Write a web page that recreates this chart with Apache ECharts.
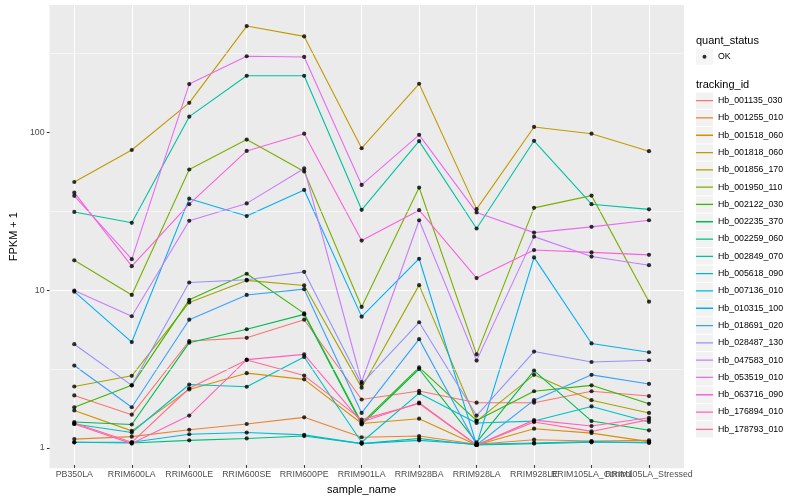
<!DOCTYPE html>
<html>
<head>
<meta charset="utf-8">
<script src="https://cdn.jsdelivr.net/npm/echarts@6/dist/echarts.min.js"></script>
<style>
html,body{margin:0;padding:0;background:#ffffff;}
#chart{width:800px;height:500px;}
</style>
</head>
<body>
<div id="chart"></div>
<script>
// ---------- data (values are FPKM + 1, as plotted) ----------
const categories = ['PB350LA','RRIM600LA','RRIM600LE','RRIM600SE','RRIM600PE','RRIM901LA','RRIM928BA','RRIM928LA','RRIM928LE','RRIM105LA_Control','RRIM105LA_Stressed'];

const trackingIds = ['Hb_001135_030','Hb_001255_010','Hb_001518_060','Hb_001818_060','Hb_001856_170','Hb_001950_110','Hb_002122_030','Hb_002235_370','Hb_002259_060','Hb_002849_070','Hb_005618_090','Hb_007136_010','Hb_010315_100','Hb_018691_020','Hb_028487_130','Hb_047583_010','Hb_053519_010','Hb_063716_090','Hb_176894_010','Hb_178793_010'];

const hb_001135_030 = [2.07, 1.56, 4.6, 4.82, 6.29, 1.95, 2.21, 1.86, 1.86, 2.20, 2.05];
const hb_001255_010 = [1.09, 1.13, 1.25, 1.36, 1.50, 1.12, 1.14, 1.01, 1.08, 1.06, 1.07];
const hb_001518_060 = [1.66, 1.23, 2.26, 2.87, 2.62, 1.37, 1.47, 1.00, 1.27, 1.19, 1.05];
const hb_001818_060 = [47.5, 76, 152, 469, 403, 78, 201, 31.9, 106.6, 96.6, 74.7];
const hb_001856_170 = [2.36, 2.76, 8.11, 11.2, 10.4, 2.32, 10.45, 1.42, 2.80, 1.93, 1.60];
const hb_001950_110 = [15.05, 9.05, 57.1, 88.6, 55.5, 7.59, 43.8, 3.78, 32.5, 38.9, 8.20];
const hb_002122_030 = [1.74, 2.40, 8.42, 12.35, 6.9, 1.38, 3.12, 1.43, 2.20, 2.40, 1.83];
const hb_002235_370 = [1.40, 1.35, 4.49, 5.47, 6.8, 1.35, 3.05, 1.04, 2.98, 1.42, 1.24];
const hb_002259_060 = [1.04, 1.03, 1.07, 1.10, 1.14, 1.02, 1.10, 1.00, 1.02, 1.04, 1.04];
const hb_002849_070 = [30.6, 26.1, 124, 226, 226, 31.6, 86.6, 24.0, 87.0, 34.3, 31.8];
const hb_005618_090 = [1.36, 1.20, 2.43, 2.35, 3.64, 1.04, 2.14, 1.38, 1.42, 1.76, 1.40];
const hb_007136_010 = [1.04, 1.04, 1.17, 1.20, 1.16, 1.02, 1.07, 1.01, 1.03, 1.05, 1.03];
const hb_010315_100 = [9.5, 4.53, 37.2, 28.8, 42.3, 6.58, 15.4, 1.00, 15.7, 4.44, 3.90];
const hb_018691_020 = [3.21, 1.74, 6.29, 9.05, 9.85, 1.60, 4.73, 1.00, 1.93, 2.80, 2.45];
const hb_028487_130 = [4.39, 2.40, 10.86, 11.3, 12.7, 2.45, 6.06, 1.54, 3.94, 3.38, 3.47];
const hb_047583_010 = [9.66, 6.62, 26.9, 34.7, 58, 2.52, 27.1, 3.45, 21.3, 15.9, 14.0];
const hb_053519_010 = [38.8, 15.3, 200, 301, 298, 45.5, 95, 30.4, 22.6, 24.6, 27.1];
const hb_063716_090 = [40.6, 13.8, 34.3, 75, 96.6, 20.1, 31.4, 11.6, 17.5, 16.9, 16.3];
const hb_176894_010 = [1.36, 1.02, 1.54, 3.50, 3.78, 1.40, 1.86, 1.00, 1.44, 1.32, 1.49];
const hb_178793_010 = [1.38, 1.04, 2.3, 3.48, 2.77, 1.45, 1.84, 1.00, 1.40, 1.22, 1.45];

const seriesValues = [hb_001135_030, hb_001255_010, hb_001518_060, hb_001818_060, hb_001856_170, hb_001950_110, hb_002122_030, hb_002235_370, hb_002259_060, hb_002849_070, hb_005618_090, hb_007136_010, hb_010315_100, hb_018691_020, hb_028487_130, hb_047583_010, hb_053519_010, hb_063716_090, hb_176894_010, hb_178793_010];

const yTickValues = [1, 10, 100];
const yMinorValues = [3.1623, 31.623, 316.23];
const quantStatus = ['OK'];

// ---------- styles ----------
const palette = ['#F8766D','#EA8331','#D89000','#C09B00','#A3A500','#7CAE00','#39B600','#00BB4E','#00BF7D','#00C1A3','#00BFC4','#00BAE0','#00B0F6','#35A2FF','#9590FF','#C77CFF','#E76BF3','#FA62DB','#FF62BC','#FF6C91'];
const FONT = '"Liberation Sans", Arial, Helvetica, sans-serif';
const Y_MIN = 0.744, Y_MAX = 639;
const linePath = 'path://M0,0h0.01v0.01h-0.01z M17,16.3h0.01v0.01h-0.01z M0,7.5h17v1.3h-17z';
const dotPath = 'path://M0,0h0.01v0.01h-0.01z M17,16.3h0.01v0.01h-0.01z M6.5,8.15a2,2 0 1,0 4,0a2,2 0 1,0 -4,0z';

const chart = echarts.init(document.getElementById('chart'), null, {renderer: 'canvas'});

const lineSeries = trackingIds.map((id, i) => ({
  name: id,
  type: 'line',
  xAxisIndex: 1,
  yAxisIndex: 1,
  data: seriesValues[i],
  symbol: 'none',
  lineStyle: {color: palette[i], width: 1.1},
  itemStyle: {color: palette[i]},
  z: 2,
  silent: true
}));

const pointData = [];
seriesValues.forEach(vals => vals.forEach((v, j) => pointData.push([categories[j], v])));

const legendText = {fontSize: 8.8, color: '#000', fontFamily: FONT};
const titleText = {fontSize: 11, fontWeight: 'normal', color: '#000', fontFamily: FONT};

const option = {
  animation: false,
  backgroundColor: '#ffffff',
  textStyle: {fontFamily: FONT},
  title: [
    {text: 'quant_status', left: 696, top: 35, padding: 0, textStyle: titleText},
    {text: 'tracking_id', left: 696, top: 79, padding: 0, textStyle: titleText}
  ],
  grid: [
    {left: 40, right: 116, top: 5, bottom: 31.7, show: true, backgroundColor: '#EBEBEB', borderWidth: 0},
    {left: 74.3, right: 151, top: 5, bottom: 31.7, show: false}
  ],
  legend: [
    {left: 696, top: 48.5, orient: 'vertical', padding: 0, itemWidth: 17, itemHeight: 16.3, icon: 'rect', selectedMode: false,
     itemStyle: {borderWidth: 0}, formatter: () => '', textStyle: legendText,
     data: quantStatus.map(n => ({name: n, itemStyle: {color: '#F2F2F2', borderWidth: 0}}))},
    {left: 696, top: 48.5, orient: 'vertical', padding: 0, itemWidth: 17, itemHeight: 16.3, icon: dotPath, selectedMode: false,
     itemStyle: {borderWidth: 0}, textStyle: legendText,
     data: quantStatus.map(n => ({name: n, itemStyle: {color: '#000', borderWidth: 0}}))},
    {left: 696, top: 92.5, orient: 'vertical', padding: 0, itemGap: 1, itemWidth: 17, itemHeight: 16.3, icon: 'rect', selectedMode: false,
     itemStyle: {borderWidth: 0}, formatter: () => '', textStyle: legendText,
     data: trackingIds.map(n => ({name: n, itemStyle: {color: '#F2F2F2', borderWidth: 0}}))},
    {left: 696, top: 92.5, orient: 'vertical', padding: 0, itemGap: 1, itemWidth: 17, itemHeight: 16.3, icon: linePath, selectedMode: false,
     itemStyle: {borderWidth: 0}, textStyle: legendText,
     data: trackingIds.map((n, i) => ({name: n, itemStyle: {color: palette[i], borderWidth: 0}}))}
  ],
  xAxis: [
    {gridIndex: 0, type: 'value', min: 0, max: 1, show: false},
    {gridIndex: 1, type: 'category', data: categories, boundaryGap: false,
     axisLine: {show: false},
     axisTick: {show: true, length: 2.75, lineStyle: {color: '#333333', width: 1.07}},
     axisLabel: {interval: 0, color: '#4D4D4D', fontSize: 8.8, margin: 5, fontFamily: FONT},
     splitLine: {show: true, interval: 0, lineStyle: {color: '#ffffff', width: 1.07}},
     name: 'sample_name', nameLocation: 'middle', nameGap: 16.5,
     nameTextStyle: {color: '#000', fontSize: 11, fontFamily: FONT}}
  ],
  yAxis: [
    {gridIndex: 0, type: 'log', logBase: 10, min: Y_MIN, max: Y_MAX,
     axisLine: {show: false},
     axisTick: {show: true, length: 2.75, lineStyle: {color: '#333333', width: 1.07}, customValues: yTickValues},
     axisLabel: {color: '#4D4D4D', fontSize: 8.8, margin: 5, fontFamily: FONT, customValues: yTickValues},
     splitLine: {show: true, showMinLine: false, showMaxLine: false, lineStyle: {color: '#ffffff', width: 1.07}},
     name: 'FPKM + 1', nameLocation: 'middle', nameGap: 23,
     nameTextStyle: {color: '#000', fontSize: 11, fontFamily: FONT}},
    {gridIndex: 1, type: 'log', logBase: 10, min: Y_MIN, max: Y_MAX, show: false}
  ],
  series: [
    {name: 'minorGrid', type: 'line', xAxisIndex: 0, yAxisIndex: 0, data: [], silent: true, z: 1,
     markLine: {silent: true, symbol: ['none', 'none'], label: {show: false}, animation: false,
       lineStyle: {color: '#ffffff', width: 0.55, type: 'solid'},
       data: yMinorValues.map(v => ({yAxis: v}))}}
  ].concat(lineSeries).concat([
    {name: 'OK', type: 'scatter', xAxisIndex: 1, yAxisIndex: 1, data: pointData,
     symbol: 'circle', symbolSize: 4.2, itemStyle: {color: '#000000'}, z: 5, silent: true}
  ])
};

chart.setOption(option);
</script>
</body>
</html>
